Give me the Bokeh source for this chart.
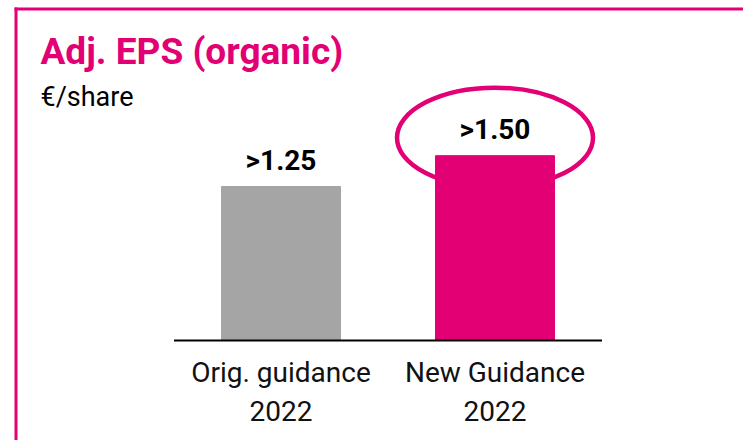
from bokeh.plotting import figure
from bokeh.models import Range1d, Label, ColumnDataSource
from bokeh.core.properties import value
from bokeh.embed import file_html
from bokeh.resources import INLINE

# ---- data ----
categories = ["Orig. guidance\n2022", "New Guidance\n2022"]
eps_values = [1.25, 1.50]
value_labels = [">1.25", ">1.50"]
bar_colors = ["#A5A5A5", "#E20074"]
title_text = "Adj. EPS (organic)"
unit_text = "€/share"
highlight_index = 1

MAGENTA = "#E20074"
FONT = "Roboto"

# ---- layout geometry (pixels) ----
W, H = 743, 440
PX_PER_X = 214.0     # pixels per category step
X0_PX = 280.5        # pixel centre of first category
BASE_PX = 340.0      # pixel row of the zero line
PX_PER_Y = 123.2     # pixels per EPS unit

x_range = Range1d(-X0_PX / PX_PER_X, (W - X0_PX) / PX_PER_X)
y_range = Range1d(-(H - BASE_PX) / PX_PER_Y, BASE_PX / PX_PER_Y)


def dx(px):
    return x_range.start + px / PX_PER_X


def dy(py):
    return y_range.end - py / PX_PER_Y


p = figure(width=W, height=H, x_range=x_range, y_range=y_range,
           x_axis_type=None, y_axis_type=None,
           output_backend="svg", toolbar_location=None,
           min_border=0, outline_line_color=None,
           background_fill_color="white", border_fill_color="white")
p.grid.visible = False

idx = list(range(len(categories)))
src = ColumnDataSource(dict(x=idx, top=eps_values, color=bar_colors,
                            label=value_labels, cat=categories,
                            zero=[0] * len(idx)))

# frame border (left + top)
p.segment(x0=[dx(15.5), dx(14)], y0=[dy(7), dy(8.5)],
          x1=[dx(15.5), dx(W)], y1=[dy(H), dy(8.5)],
          line_color=MAGENTA, line_width=3)

# highlight ellipse (behind bar)
p.ellipse(x=[highlight_index], y=[eps_values[highlight_index] + 0.146],
          width=196, height=100, width_units="screen", height_units="screen",
          fill_color=None, line_color=MAGENTA, line_width=4.5)

# bars
p.vbar(x="x", top="top", bottom=0, width=119 / PX_PER_X, color="color",
       source=src)

# baseline
p.segment(x0=[idx[0] - 0.5], y0=[0], x1=[idx[-1] + 0.5], y1=[0],
          line_color="black", line_width=2)

# value labels
p.text(x="x", y="top", text="label", source=src, text_align="center",
       text_baseline="alphabetic", y_offset=-26,
       text_font=value(FONT), text_font_style="bold",
       text_font_size="28px", text_color="black")

# category labels
p.text(x="x", y="zero", text="cat", source=src, text_align="center",
       text_baseline="top", y_offset=15, text_line_height=1.2,
       text_font=value(FONT), text_font_size="28px", text_color="#111111")

# title and unit
p.add_layout(Label(x=40, y=H - 51, x_units="screen", y_units="screen",
                   text=title_text, text_font=FONT, text_font_size="37px",
                   text_font_style="bold", text_color=MAGENTA,
                   text_baseline="alphabetic"))
p.add_layout(Label(x=40, y=H - 96, x_units="screen", y_units="screen",
                   text=unit_text, text_font=FONT, text_font_size="27px",
                   text_color="black", text_baseline="alphabetic"))

open("out.html", "w").write(file_html(p, INLINE))
